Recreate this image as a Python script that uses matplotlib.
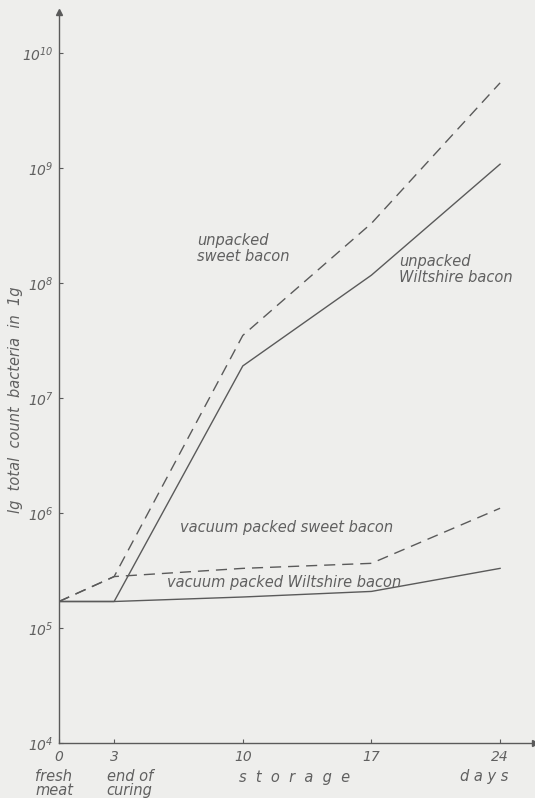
import numpy as np
import matplotlib.pyplot as plt

# days of storage (0 = fresh meat, 3 = end of curing)
days = [0, 3, 10, 17, 24]

# total bacteria count per g
unpacked_sweet = [1.7e5, 2.8e5, 3.5e7, 3.3e8, 5.5e9]
unpacked_wiltshire = [1.7e5, 1.7e5, 1.9e7, 1.17e8, 1.08e9]
vacuum_sweet = [1.7e5, 2.8e5, 3.3e5, 3.65e5, 1.1e6]
vacuum_wiltshire = [1.7e5, 1.7e5, 1.86e5, 2.08e5, 3.3e5]

x_ticks = [0, 3, 10, 17, 24]
y_ticks = [1e4, 1e5, 1e6, 1e7, 1e8, 1e9, 1e10]
y_labels = [r'$10^{4}$', r'$10^{5}$', r'$10^{6}$', r'$10^{7}$',
            r'$10^{8}$', r'$10^{9}$', r'$10^{10}$']

bg = '#eeeeec'
ink = '#5a5a5a'
txt = '#606060'

plt.rcParams['font.family'] = 'DejaVu Sans'
plt.rcParams['mathtext.fontset'] = 'custom'
plt.rcParams['mathtext.rm'] = 'DejaVu Sans:italic'
plt.rcParams['mathtext.it'] = 'DejaVu Sans:italic'

fig = plt.figure(figsize=(5.35, 7.98), dpi=100, facecolor=bg)
ax = fig.add_axes([59 / 535, 55 / 798, 1 - 59 / 535, (743 - 12) / 798])
ax.set_facecolor(bg)

ax.set_yscale('log')
ax.set_xlim(0, 25.9)
ax.set_ylim(1e4, 10 ** (4 + 731 / 115))

ax.plot(days, unpacked_sweet, color=ink, lw=1.0, ls=(0, (8, 5)))
ax.plot(days, unpacked_wiltshire, color=ink, lw=1.0)
ax.plot(days, vacuum_sweet, color=ink, lw=1.0, ls=(0, (8, 5)))
ax.plot(days, vacuum_wiltshire, color=ink, lw=1.0)

# axes drawn like the hand-made original: only left and bottom, with arrows
for s in ['top', 'right']:
    ax.spines[s].set_visible(False)
for s in ['left', 'bottom']:
    ax.spines[s].set_color(ink)
    ax.spines[s].set_linewidth(1.0)
ax.plot(0, 1, '^', color=ink, ms=5, transform=ax.transAxes, clip_on=False)
ax.plot(1, 0, '>', color=ink, ms=5, transform=ax.transAxes, clip_on=False)

ax.set_yticks(y_ticks)
ax.set_yticklabels(y_labels)
ax.yaxis.set_minor_locator(plt.NullLocator())
ax.set_xticks(x_ticks)
ax.set_xticklabels([str(t) for t in x_ticks])
ax.tick_params(axis='y', direction='in', length=3, color=ink, labelcolor=txt,
               labelsize=10, pad=4)
ax.tick_params(axis='x', direction='in', length=3, color=ink, labelcolor=txt,
               labelsize=10, pad=5)
for lab in ax.get_xticklabels():
    lab.set_fontstyle('italic')

ax.set_ylabel('lg  total  count  bacteria  in  1g', color=txt, fontsize=10.5,
              fontstyle='italic', labelpad=10)
ax.yaxis.set_label_coords(-0.075, 0.47)

# curve labels
lab_kw = dict(color=txt, fontsize=10.5, fontstyle='italic', va='center')
ax.text(7.5, 10 ** 8.30, 'unpacked\nsweet bacon', linespacing=1.05, **lab_kw)
ax.text(18.5, 10 ** 8.12, 'unpacked\nWiltshire bacon', linespacing=1.05, **lab_kw)
ax.text(6.6, 10 ** 5.87, 'vacuum packed sweet bacon', **lab_kw)
ax.text(5.9, 10 ** 5.40, 'vacuum packed Wiltshire bacon', **lab_kw)

# phase labels below the day numbers
low_kw = dict(color=txt, fontsize=10.5, fontstyle='italic', va='top',
              transform=ax.get_xaxis_transform(), linespacing=0.95)
ax.text(-1.3, -0.035, 'fresh\nmeat', **low_kw)
ax.text(2.6, -0.035, 'end of\ncuring', **low_kw)
ax.text(9.8, -0.037, 's  t  o  r  a  g  e', **low_kw)
ax.text(21.8, -0.035, 'd a y s', **low_kw)

fig.savefig('out.png', dpi=100, facecolor=bg)
